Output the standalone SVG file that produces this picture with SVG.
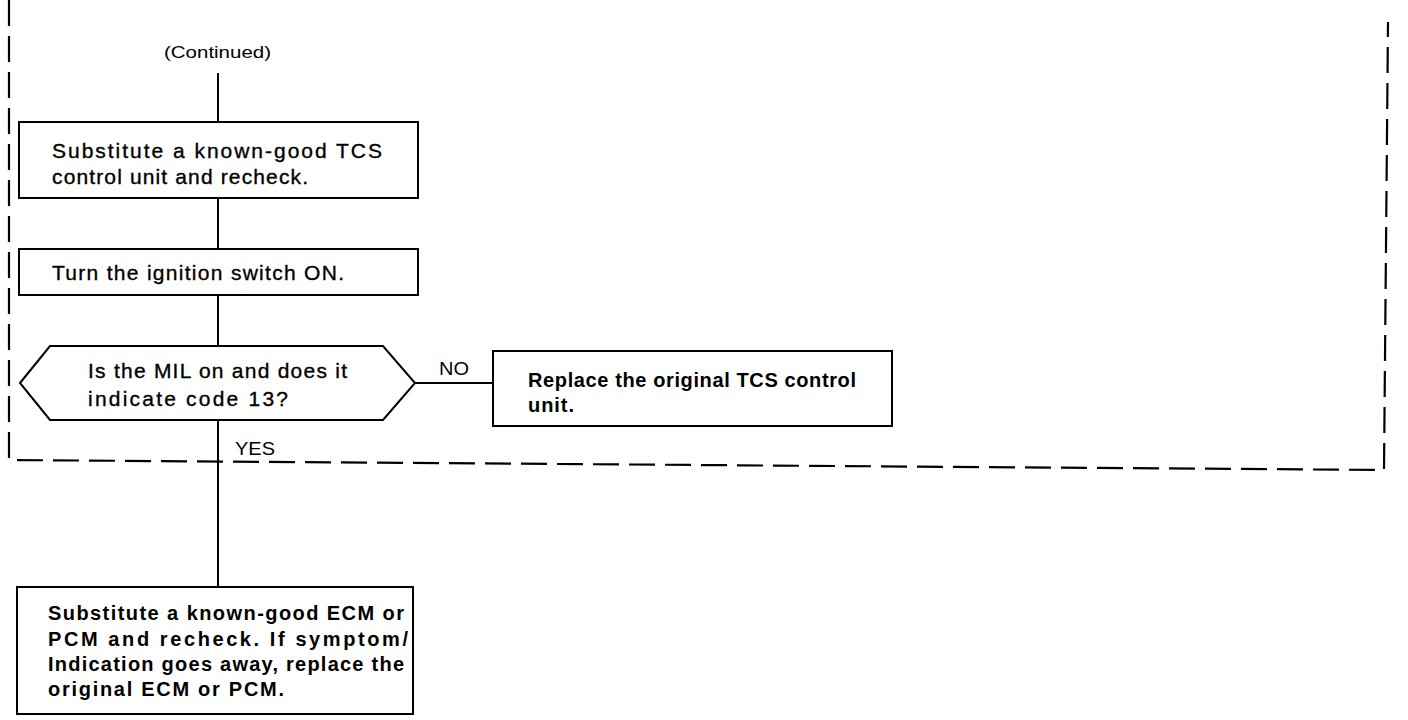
<svg xmlns="http://www.w3.org/2000/svg" width="1408" height="720" viewBox="0 0 1408 720">
<style>
  .box{fill:none;stroke:#000;stroke-width:2}
  .ln{fill:none;stroke:#000;stroke-width:2}
  .frame{fill:none;stroke:#000;stroke-width:2.2;stroke-dasharray:26 10}
  text{font-family:"Liberation Sans",Arial,sans-serif;fill:#000}
  .t{font-size:21px;stroke:#000;stroke-width:0.35}
  .b{font-size:20px;font-weight:bold}
  .s{font-size:17px}
  .lbl{font-size:19px}
</style>
<rect width="1408" height="720" fill="#fff"/>
<g id="frame">
  <path class="frame" d="M9,0 L9,460 L1384,470 L1388,22"/>
</g>
<g id="connectors">
  <line class="ln" x1="218" y1="73" x2="218" y2="122"/>
  <line class="ln" x1="218" y1="198" x2="218" y2="249"/>
  <line class="ln" x1="218" y1="295" x2="218" y2="346"/>
  <line class="ln" x1="415" y1="383" x2="493" y2="383"/>
  <line class="ln" x1="218" y1="420" x2="218" y2="587"/>
  <text class="lbl" x="439" y="375" textLength="30" lengthAdjust="spacingAndGlyphs">NO</text>
  <text class="lbl" x="235" y="455" textLength="40" lengthAdjust="spacingAndGlyphs">YES</text>
</g>
<g id="continued">
  <text class="s" x="164" y="58" textLength="107" lengthAdjust="spacingAndGlyphs">(Continued)</text>
</g>
<g id="n1">
  <rect class="box" x="19" y="122" width="399" height="76"/>
  <text class="t" x="52" y="158" textLength="330" lengthAdjust="spacing">Substitute a known-good TCS</text>
  <text class="t" x="52" y="184" textLength="256" lengthAdjust="spacing">control unit and recheck.</text>
</g>
<g id="n2">
  <rect class="box" x="19" y="249" width="399" height="46"/>
  <text class="t" x="52" y="280" textLength="292" lengthAdjust="spacing">Turn the ignition switch ON.</text>
</g>
<g id="n3">
  <polygon class="box" points="20,383 50,346 383,346 415,383 383,420 50,420"/>
  <text class="t" x="88" y="378" textLength="259" lengthAdjust="spacing">Is the MIL on and does it</text>
  <text class="t" x="88" y="406" textLength="200" lengthAdjust="spacing">indicate code 13?</text>
</g>
<g id="n4">
  <rect class="box" x="493" y="351" width="399" height="75"/>
  <text class="b" x="528" y="387" textLength="328" lengthAdjust="spacing">Replace the original TCS control</text>
  <text class="b" x="528" y="412" textLength="46" lengthAdjust="spacing">unit.</text>
</g>
<g id="n5">
  <rect class="box" x="17" y="587" width="396" height="127"/>
  <text class="b" x="48" y="620" textLength="356" lengthAdjust="spacing">Substitute a known-good ECM or</text>
  <text class="b" x="48" y="646" textLength="360" lengthAdjust="spacing">PCM and recheck. If symptom/</text>
  <text class="b" x="48" y="671" textLength="356" lengthAdjust="spacing">Indication goes away, replace the</text>
  <text class="b" x="48" y="696" textLength="236" lengthAdjust="spacing">original ECM or PCM.</text>
</g>
</svg>
